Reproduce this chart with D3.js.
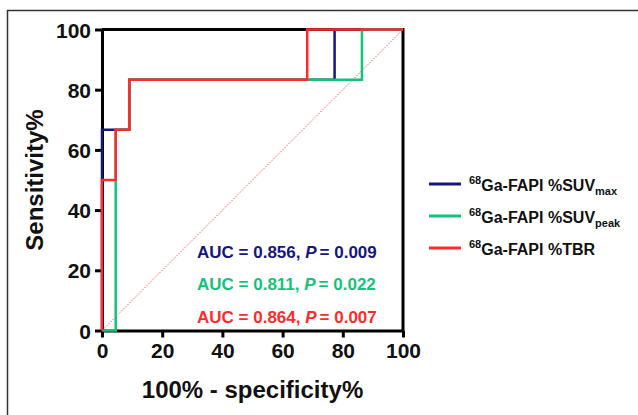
<!DOCTYPE html>
<html>
<head>
<meta charset="utf-8">
<script src="https://cdn.jsdelivr.net/npm/d3@7"></script>
<style>
  body { margin: 0; background: #fff; }
  text { font-family: "Liberation Sans", Arial, sans-serif; font-weight: bold; }
</style>
</head>
<body>
<svg id="chart" width="638" height="415"></svg>
<script>
// ROC points (100% - specificity%, sensitivity%)
const suvMaxFpr = [0, 0, 9.09, 77.27, 100];
const suvMaxTpr = [0, 66.67, 83.33, 100, 100];
const suvPeakFpr = [0, 4.55, 9.09, 86.36, 100];
const suvPeakTpr = [0, 66.67, 83.33, 100, 100];
const tbrFpr = [0, 0, 4.55, 9.09, 68.18, 100];
const tbrTpr = [0, 50, 66.67, 83.33, 100, 100];

const tickValues = [0, 20, 40, 60, 80, 100];
const aucLabels = ["AUC = 0.856, ", "AUC = 0.811, ", "AUC = 0.864, "];
const pLabels = ["= 0.009", "= 0.022", "= 0.007"];
const seriesNames = ["%SUV", "%SUV", "%TBR"];
const seriesSubs = ["max", "peak", ""];
const colors = ["#15157e", "#12c47a", "#ff2b2b"];

const svg = d3.select("#chart");

// outer frame
svg.append("path")
  .attr("d", "M7.5,415 L7.5,10.5 L638,10.5")
  .attr("fill", "none")
  .attr("stroke", "#333")
  .attr("stroke-width", 1.5);

const x = d3.scaleLinear().domain([0, 100]).range([102, 403]);
const y = d3.scaleLinear().domain([0, 100]).range([330.5, 29.5]);

// plot box (top & right)
svg.append("path")
  .attr("d", `M${x(0)},${y(100)} L${x(100)},${y(100)} L${x(100)},${y(0)}`)
  .attr("fill", "none")
  .attr("stroke", "#000")
  .attr("stroke-width", 3);

const xAxis = svg.append("g")
  .attr("transform", `translate(0,${y(0)})`)
  .call(d3.axisBottom(x).tickValues(tickValues).tickSize(7).tickSizeOuter(0).tickPadding(6));
const yAxis = svg.append("g")
  .attr("transform", `translate(${x(0)},0)`)
  .call(d3.axisLeft(y).tickValues(tickValues).tickSize(7).tickSizeOuter(0).tickPadding(4));

[xAxis, yAxis].forEach(function (a) {
  a.select(".domain").attr("stroke", "#000").attr("stroke-width", 3);
  a.selectAll(".tick line").attr("stroke", "#000").attr("stroke-width", 3);
  a.selectAll(".tick text")
    .attr("fill", "#111")
    .style("font-size", "21px")
    .style("font-family", "'Liberation Sans', Arial, sans-serif")
    .style("font-weight", "bold");
});
yAxis.selectAll(".tick text").attr("dy", "0.36em");

// axis titles
svg.append("text")
  .attr("x", (x(0) + x(100)) / 2)
  .attr("y", 398)
  .attr("text-anchor", "middle")
  .attr("fill", "#111")
  .style("font-size", "24px")
  .text("100% - specificity%");

svg.append("text")
  .attr("transform", `translate(43,${(y(0) + y(100)) / 2}) rotate(-90)`)
  .attr("text-anchor", "middle")
  .attr("fill", "#111")
  .style("font-size", "24px")
  .text("Sensitivity%");

// reference diagonal
svg.append("line")
  .attr("x1", x(0)).attr("y1", y(0))
  .attr("x2", x(100)).attr("y2", y(100))
  .attr("stroke", "#ff4d5e")
  .attr("stroke-width", 1)
  .attr("stroke-dasharray", "1.5,1.5");

// ROC curves
const line = d3.line()
  .x(d => x(d[0]))
  .y(d => y(d[1]))
  .curve(d3.curveStepAfter);

const series = [
  d3.zip(suvMaxFpr, suvMaxTpr),
  d3.zip(suvPeakFpr, suvPeakTpr),
  d3.zip(tbrFpr, tbrTpr)
];

series.forEach(function (pts, i) {
  svg.append("path")
    .datum(pts)
    .attr("d", line)
    .attr("fill", "none")
    .attr("stroke", colors[i])
    .attr("stroke-width", 2.5);
});

// AUC annotations
const aucY = [257.5, 290, 322.5];
aucLabels.forEach(function (t, i) {
  const txt = svg.append("text")
    .attr("x", 197)
    .attr("y", aucY[i])
    .attr("fill", colors[i])
    .style("font-size", "17px");
  txt.append("tspan").text(t);
  txt.append("tspan").style("font-style", "italic").text("P");
  txt.append("tspan").attr("dx", 3).text(pLabels[i]);
});

// legend
const legendY = [184, 216, 248];
legendY.forEach(function (ly, i) {
  svg.append("line")
    .attr("x1", 429).attr("x2", 461)
    .attr("y1", ly).attr("y2", ly)
    .attr("stroke", colors[i])
    .attr("stroke-width", 3);
  const t = svg.append("text")
    .attr("x", 469)
    .attr("y", ly + 7)
    .attr("fill", "#111")
    .style("font-size", "16px");
  t.append("tspan").attr("dy", -7).style("font-size", "11px").text("68");
  t.append("tspan").attr("dy", 7).text("Ga-FAPI " + seriesNames[i]);
  if (seriesSubs[i]) {
    t.append("tspan").attr("dy", 4).style("font-size", "11px").text(seriesSubs[i]);
  }
});
</script>
</body>
</html>
